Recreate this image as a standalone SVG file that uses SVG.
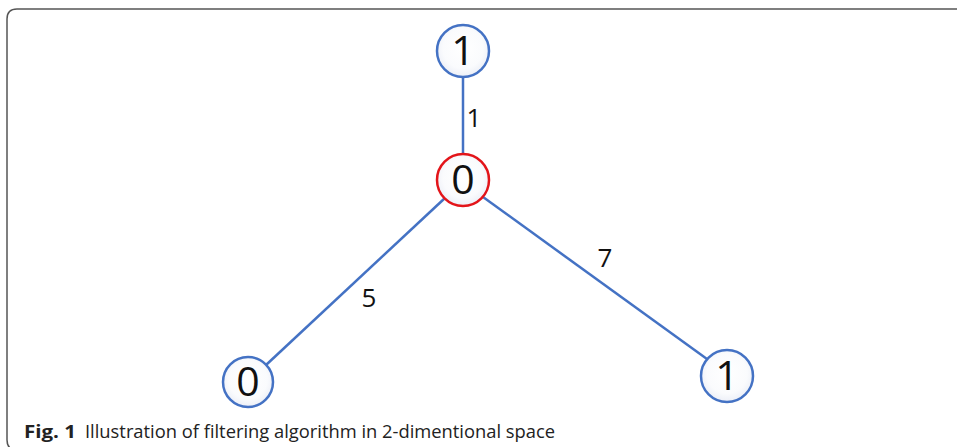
<svg xmlns="http://www.w3.org/2000/svg" width="957" height="447" viewBox="0 0 957 447">
<defs>
<radialGradient id="nf" cx="50%" cy="45%" r="55%">
<stop offset="0" stop-color="#ffffff"/>
<stop offset="0.7" stop-color="#fafbfd"/>
<stop offset="1" stop-color="#eceff7"/>
</radialGradient>
</defs>
<style>
.frame{fill:none;stroke:#555;stroke-width:1.5}
.edge{stroke:#4472c4;stroke-width:2.5;fill:none}
.node{fill:url(#nf);stroke:#4472c4;stroke-width:2.5}
.red{stroke:#e3151a}
.nt{font-family:"Open Sans","Liberation Sans",sans-serif;font-size:41px;fill:#111;text-anchor:middle}
.el{font-family:"Open Sans","Liberation Sans",sans-serif;font-size:26px;fill:#111;text-anchor:middle}
.cap{font-family:"Open Sans","Liberation Sans",sans-serif;font-size:18px;fill:#222}
</style>
<path class="frame" d="M17,450 Q7,450 7,440 V19 Q7,9 17,9 H957"/>
<g id="connectors">
<line class="edge" x1="463" y1="77" x2="463" y2="154"/>
<line class="edge" x1="445" y1="198" x2="266" y2="365"/>
<line class="edge" x1="483" y1="197" x2="707" y2="359"/>
<text class="el" x="474" y="127">1</text>
<text class="el" x="605" y="267">7</text>
<text class="el" x="369" y="307">5</text>
</g>
<g id="n_top">
<circle class="node" cx="463" cy="51" r="26"/>
<text class="nt" x="463" y="65">1</text>
</g>
<g id="n_center">
<circle class="node red" cx="463" cy="180" r="26"/>
<text class="nt" x="463" y="194">0</text>
</g>
<g id="n_left">
<circle class="node" cx="248" cy="382" r="25"/>
<text class="nt" x="248" y="396">0</text>
</g>
<g id="n_right">
<circle class="node" cx="727" cy="376" r="26"/>
<text class="nt" x="727" y="390">1</text>
</g>
<text class="cap" x="24" y="438" font-weight="bold" textLength="52" lengthAdjust="spacingAndGlyphs">Fig. 1</text>
<text class="cap" x="85" y="438" textLength="470" lengthAdjust="spacingAndGlyphs">Illustration of filtering algorithm in 2-dimentional space</text>
</svg>
